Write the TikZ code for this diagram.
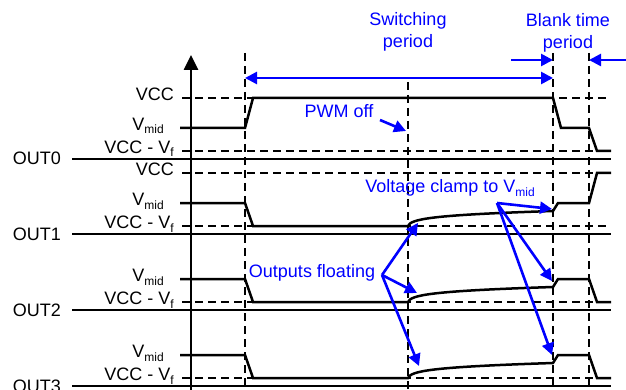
\documentclass[tikz,border=0pt]{standalone}
\usepackage{fontspec}
\setmainfont{Liberation Sans}
\usetikzlibrary{arrows.meta}
\newcommand\mysub[1]{\raisebox{-3.5pt}{\fontsize{12}{12}\selectfont #1}}
\begin{document}
\begin{tikzpicture}[x=1pt,y=-1pt,
  lbl/.style={font=\fontsize{18}{22}\selectfont, inner sep=0pt, anchor=base east},
  bl/.style={font=\fontsize{18}{22}\selectfont, inner sep=0pt, text=blue, anchor=base},
  sig/.style={line width=2.5pt, line join=miter},
  baseln/.style={line width=2.5pt},
  dsh/.style={line width=1.1pt, dash pattern=on 8pt off 5pt},
  barr/.style={blue, line width=2.6pt, -{Triangle[length=12pt,width=12pt]}},
  dbarr/.style={blue, line width=2.6pt, {Triangle[length=12pt,width=12pt]}-{Triangle[length=12pt,width=12pt]}},
]
\useasboundingbox (0,0) rectangle (626,390);

% vertical dashed lines
\coordinate (v1t) at (245,53); \coordinate (v1b) at (245,390);
\coordinate (v2t) at (408,82); \coordinate (v2b) at (408,390);
\coordinate (v3t) at (553,53); \coordinate (v3b) at (553,390);
\coordinate (v4t) at (589,53); \coordinate (v4b) at (589,390);
\foreach \i in {1,2,3,4} \draw[dsh] (v\i t) -- (v\i b);

% horizontal dashed reference levels
\foreach \y/\e in {98/607,151/607,173/598,226/607,302/607,378/607}
  \draw[dsh] (182,\y) -- (\e,\y);

% baselines
\foreach \y in {159,234,310,386}
  \draw[baseln] (72,\y) -- (611,\y);

% axis
\coordinate (ax0) at (191,390);
\coordinate (ax1) at (191,55);
\draw[line width=2.6pt,-{Triangle[length=15pt,width=14pt]}] (ax0) -- (ax1);

% OUT0 signal
\draw[sig] (180,128) -- (245,128) -- (253,98) -- (553,98) -- (561,128) -- (589,128) -- (597,151) -- (611,151);
% OUT1 signal
\draw[sig] (180,203) -- (245,203) -- (253,226) -- (408,226) .. controls +(3,-7) and +(-123,4) .. (553,211) -- (558,203) -- (589,203) -- (597,173) -- (611,173);
% OUT2 signal
\draw[sig] (180,279) -- (245,279) -- (253,302) -- (408,302) .. controls +(3,-7) and +(-123,4) .. (553,287) -- (558,279) -- (589,279) -- (597,302) -- (611,302);
% OUT3 signal
\draw[sig] (180,355) -- (245,355) -- (253,378) -- (408,378) .. controls +(3,-7) and +(-123,4) .. (553,363) -- (558,355) -- (589,355) -- (597,378) -- (611,378);

% left labels
\node[lbl] (o0) at (61,165) {OUT0};
\node[lbl] (o1) at (61,240) {OUT1};
\node[lbl] (o2) at (61,316) {OUT2};
\node[lbl] (o3) at (61,392) {OUT3};

\node[lbl] (vcc0) at (174,100.5) {VCC};
\node[lbl] (vm0) at (164,130.5) {V\mysub{mid}};
\node[lbl] (vf0) at (174,153.5) {VCC - V\mysub{f}};
\node[lbl] (vcc1) at (174,175.5) {VCC};
\node[lbl] (vm1) at (164,205.5) {V\mysub{mid}};
\node[lbl] (vf1) at (174,228.5) {VCC - V\mysub{f}};
\node[lbl] (vm2) at (164,281.5) {V\mysub{mid}};
\node[lbl] (vf2) at (174,304.5) {VCC - V\mysub{f}};
\node[lbl] (vm3) at (164,357.5) {V\mysub{mid}};
\node[lbl] (vf3) at (174,380.5) {VCC - V\mysub{f}};

% switching period
\node[bl] (sw1) at (408,26) {Switching};
\node[bl] (sw2) at (408,48) {period};
\coordinate (swl) at (245,78);
\coordinate (swr) at (553,78);
\draw[dbarr] (swl) -- (swr);

% blank time period
\node[bl] (bt1) at (568,27) {Blank time};
\node[bl] (bt2) at (568,49) {period};
\coordinate (btl0) at (511,60); \coordinate (btl1) at (553,60);
\coordinate (btr0) at (627,60); \coordinate (btr1) at (589,60);
\draw[barr] (btl0) -- (btl1);
\draw[barr] (btr0) -- (btr1);

% PWM off
\node[bl] (pwm) at (339,118) {PWM off};
\coordinate (pwm0) at (380,120); \coordinate (pwm1) at (406,131);
\draw[barr] (pwm0) -- (pwm1);

% Voltage clamp
\node[bl] (vc) at (450,193) {Voltage clamp to V\mysub{mid}};
\coordinate (vco) at (497,203);
\coordinate (vct1) at (552,209);
\coordinate (vct2) at (552,281);
\coordinate (vct3) at (552,355);
\draw[barr] (vco) -- (vct1);
\draw[barr] (vco) -- (vct2);
\draw[barr] (vco) -- (vct3);

% Outputs floating
\node[bl] (of) at (312,277) {Outputs floating};
\coordinate (ofo) at (382,275);
\coordinate (oft1) at (418,223);
\coordinate (oft2) at (417,293);
\coordinate (oft3) at (419,366);
\draw[barr] (ofo) -- (oft1);
\draw[barr] (ofo) -- (oft2);
\draw[barr] (ofo) -- (oft3);
\end{tikzpicture}
\end{document}
